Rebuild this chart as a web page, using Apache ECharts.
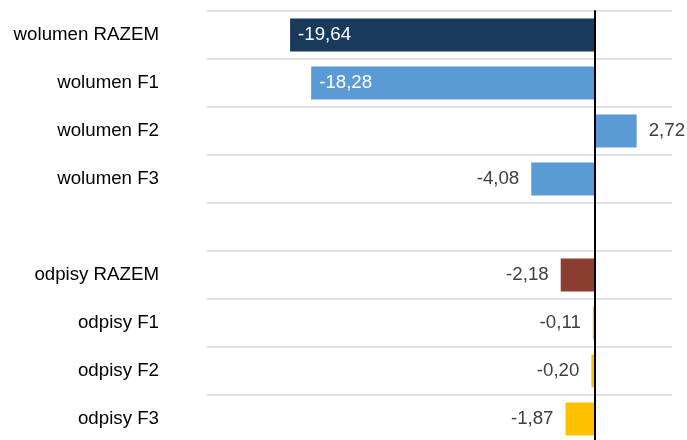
<!DOCTYPE html>
<html>
<head>
<meta charset="utf-8">
<script src="https://cdn.jsdelivr.net/npm/echarts@6/dist/echarts.min.js"></script>
<style>
  html, body { margin: 0; padding: 0; background: #fff; overflow: hidden; height: 440px; }
</style>
</head>
<body>
<!-- kontener nieco wyższy niż okno: dolna linia siatki wypada poza kadr -->
<div id="main_chart" style="width: 687px;height: 450px;"></div>
<script>
  // dane
  const categories = ['wolumen RAZEM', 'wolumen F1', 'wolumen F2', 'wolumen F3', '',
    'odpisy RAZEM', 'odpisy F1', 'odpisy F2', 'odpisy F3'];
  const values = [-19.64, -18.28, 2.72, -4.08, null, -2.18, -0.11, -0.20, -1.87];
  const barColors = ['#193a5c', '#5b9bd5', '#5b9bd5', '#5b9bd5', '#5b9bd5',
    '#8b3e2f', '#ffc000', '#ffc000', '#ffc000'];

  var chartDom = document.getElementById('main_chart');
  var myChart = echarts.init(chartDom);
  var option;

  const fmt = (v) => v.toFixed(2).replace('.', ',');

  let seriesData = values.map((v, i) => {
    if (v === null) return null;
    let big = Math.abs(v) > 10;
    return {
      value: v,
      itemStyle: { color: barColors[i] },
      label: big
        ? { position: 'insideLeft', distance: 8, color: '#fff' }
        : { position: v < 0 ? 'left' : 'right', distance: 12, color: '#404040' }
    };
  });

  option = {
    animation: false,
    textStyle: { fontFamily: 'Liberation Sans, Arial, sans-serif' },
    grid: {
      left: 207,
      right: 15,
      top: 11,
      height: 432,
      containLabel: false
    },
    xAxis: {
      type: 'value',
      min: -25,
      max: 5,
      axisLabel: { show: false },
      axisLine: { show: false },
      axisTick: { show: false },
      splitLine: { show: false }
    },
    yAxis: {
      type: 'category',
      data: categories,
      inverse: true,
      axisLine: { show: true, onZero: true, lineStyle: { color: '#000', width: 2 } },
      axisTick: { show: false },
      axisLabel: { color: '#000', fontSize: 18.7, margin: 48 },
      splitLine: { show: true, lineStyle: { color: '#d9d9d9', width: 1.5 } },
      z: 10
    },
    series: [
      {
        type: 'bar',
        barWidth: 33,
        data: seriesData,
        label: {
          show: true,
          fontSize: 18.7,
          formatter: (p) => fmt(p.value)
        }
      }
    ]
  };

  option && myChart.setOption(option);

  window.addEventListener('resize', () => {
    myChart.resize();
  });
</script>
</body>
</html>
